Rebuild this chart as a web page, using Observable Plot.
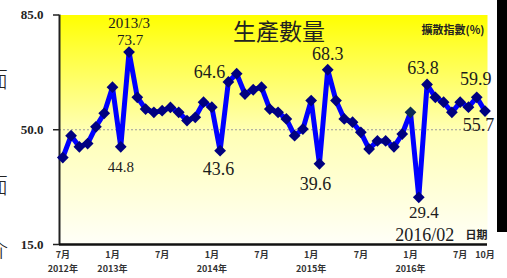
<!DOCTYPE html>
<html><head><meta charset="utf-8">
<script src="https://cdn.jsdelivr.net/npm/d3@7"></script>
<script src="https://cdn.jsdelivr.net/npm/@observablehq/plot@0.6"></script>
<style>
body{margin:0;background:#fff;}
#wrap{position:relative;width:507px;height:278px;overflow:hidden;background:#fff;}
.edge{position:absolute;left:-14px;font-family:"Noto Sans CJK TC";font-size:22px;line-height:22px;color:#222;font-weight:300;}
#bar{position:absolute;left:497px;top:0;width:10px;height:232px;background:#000;}
</style></head><body>
<div id="wrap"></div>
<script>
// Diffusion index, monthly, 2012/07 .. 2016/10
const values = [41.5,48.2,44.8,45.8,50.9,55.0,63.0,44.8,73.7,59.9,56.3,55.3,
  55.8,56.8,55.3,52.8,53.8,58.4,56.9,43.6,64.6,67.1,60.9,62.2,
  63.0,56.3,55.3,53.3,48.2,50.2,58.9,39.6,68.3,58.9,53.3,52.3,
  49.2,44.1,46.6,46.6,44.8,48.7,55.3,29.4,63.8,59.9,58.4,55.3,
  58.4,56.9,59.9,55.7];
const yTicks = [15, 50, 85];
const monthTickIdx = [0,6,12,18,24,30,36,42,48,51];
const monthTickLabels = ["7月","1月","7月","1月","7月","1月","7月","1月","7月","10月"];
const yearTickIdx = [0,6,18,30,42];
const yearTickLabels = ["2012年","2013年","2014年","2015年","2016年"];
const title = "生產數量";
const yLabel = "擴散指數(%)";
const xLabel = "日期";
const edgeChars = ["面","面","介"];

const data = values.map((v, i) => ({i, v}));
const xDomain = [-0.4, 51.3];
const serif = "'Liberation Serif', 'Times New Roman', serif";
const cjk = "'Noto Sans CJK TC', sans-serif";

const note = (i, txt, dx, dy, fs) => Plot.text([data[i]], {
  x: "i", y: "v", text: () => txt, dx, dy, fontSize: fs,
  fontFamily: serif, fill: "#1c1c1c", lineAnchor: "middle", textAnchor: "middle"
});

const chart = Plot.plot({
  width: 507, height: 278,
  marginLeft: 59, marginRight: 20, marginTop: 14.5, marginBottom: 34,
  x: {domain: xDomain, axis: null},
  y: {domain: [15, 85], axis: null},
  marks: [
    Plot.frame({fill: "url(#bgGrad)", stroke: "none"}),
    Plot.ruleY([50], {stroke: "#9a9a9a", strokeWidth: 1, strokeDasharray: "2,2"}),
    Plot.axisY({ticks: yTicks, label: null, tickSize: 6, tickPadding: 10, tickFormat: d => d.toFixed(1),
      fontSize: 13, fontWeight: "bold", fontFamily: serif, fill: "#222", stroke: "#222", strokeWidth: 1.5}),
    Plot.axisX({ticks: monthTickIdx, label: null, tickSize: 0, tickPadding: 7,
      tickFormat: (d) => monthTickLabels[monthTickIdx.indexOf(d)],
      fontSize: 9, fontWeight: "bold", fontFamily: cjk, fill: "#333"}),
    Plot.text(yearTickIdx, {x: d => d, frameAnchor: "bottom", dy: 25,
      text: (d, k) => yearTickLabels[k], fontSize: 9, fontWeight: "bold", fontFamily: cjk, fill: "#333", lineAnchor: "middle"}),
    Plot.ruleX([xDomain[0]], {y1: 15, y2: 85, stroke: "#222", strokeWidth: 2}),
    Plot.ruleY([15], {stroke: "#111", strokeWidth: 2.5}),
    Plot.line(data, {x: "i", y: "v", stroke: "#0000ff", strokeWidth: 5, strokeLinejoin: "miter"}),
    Plot.dot(data, {x: "i", y: "v", symbol: "diamond2", r: 5.3,
      fill: d => d.i === 42 ? "#0b2a55" : "#000080", stroke: "none"}),
    note(8, "2013/3", 0, -28.5, 15),
    note(8, values[8].toFixed(1), 1, -11.5, 15),
    note(7, values[7].toFixed(1), 0, 20.5, 15),
    note(20, values[20].toFixed(1), -19, -9.5, 18),
    note(19, values[19].toFixed(1), -1.5, 19, 18),
    note(32, values[32].toFixed(1), 0, -16, 18),
    note(31, values[31].toFixed(1), -4, 20, 18),
    note(44, values[44].toFixed(1), -4, -16.5, 18),
    note(43, values[43].toFixed(1), 5, 15, 17),
    note(43, "2016/02", 6, 38, 18),
    note(50, "59.9", -1, -18, 18),
    note(51, values[51].toFixed(1), -6.5, 14.5, 18),
    Plot.text([title], {frameAnchor: "top", dx: 5.5, dy: 18, fontSize: 23, fontFamily: cjk, fill: "#222", lineAnchor: "middle"}),
    Plot.text([yLabel], {frameAnchor: "top-right", dx: -3, dy: 15.5, fontSize: 11, fontWeight: "bold", fontFamily: cjk, fill: "#222", textAnchor: "end", lineAnchor: "middle"}),
    Plot.text([xLabel], {frameAnchor: "bottom-right", dx: 0, dy: -9, fontSize: 11, fontWeight: "bold", fontFamily: cjk, fill: "#222", textAnchor: "end", lineAnchor: "middle"})
  ]
});

const ns = "http://www.w3.org/2000/svg";
const defs = document.createElementNS(ns, "defs");
defs.innerHTML = `<linearGradient id="bgGrad" x1="0" y1="0" x2="0" y2="1">
  <stop offset="0" stop-color="#ffff00"/>
  <stop offset="0.15" stop-color="#ffff3a"/>
  <stop offset="0.5" stop-color="#ffffb4"/>
  <stop offset="1" stop-color="#fffff8"/>
</linearGradient>`;
chart.prepend(defs);
chart.style.position = "absolute";
chart.style.left = "0";
chart.style.top = "0";

const wrap = document.getElementById("wrap");
wrap.appendChild(chart);
[66, 172, 236].forEach((top, k) => {
  const s = document.createElement("span");
  s.className = "edge";
  s.style.top = top + "px";
  s.textContent = edgeChars[k];
  wrap.appendChild(s);
});
const bar = document.createElement("div");
bar.id = "bar";
wrap.appendChild(bar);
</script>
</body></html>
